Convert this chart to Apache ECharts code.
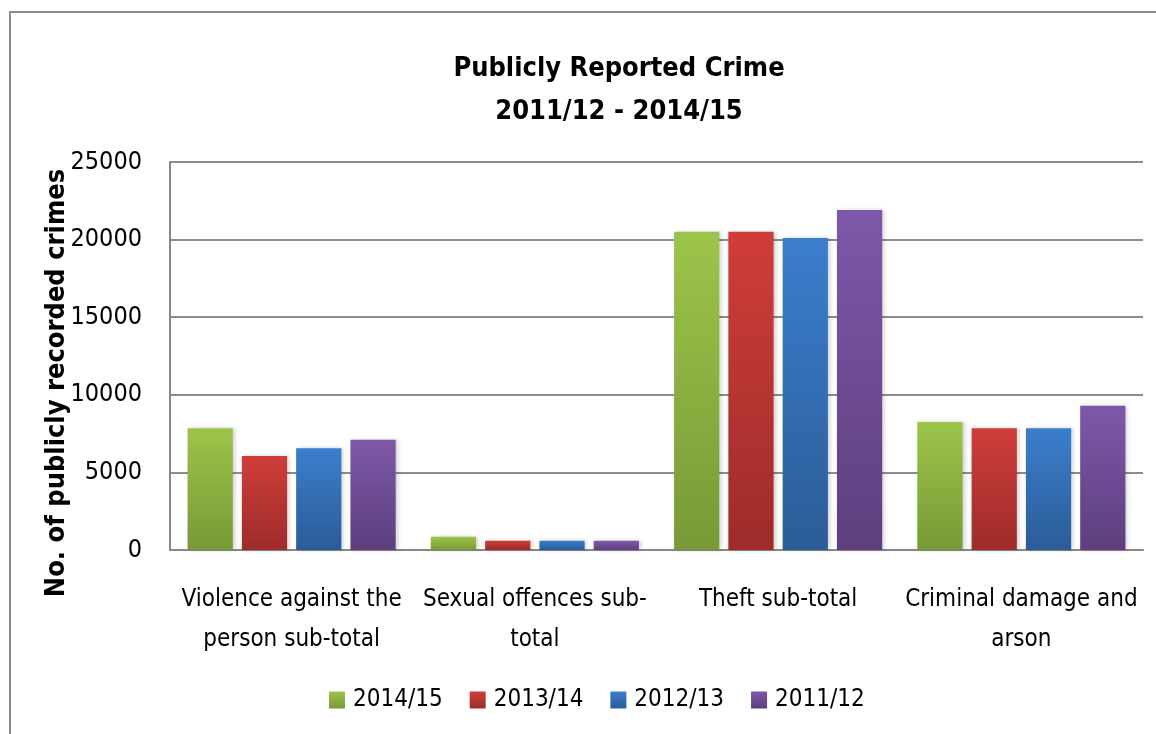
<!DOCTYPE html>
<html>
<head>
<meta charset="utf-8">
<script src="https://cdn.jsdelivr.net/npm/echarts@6/dist/echarts.min.js"></script>
<style>
    html, body { margin: 0; padding: 0; background: #fff; }
    #chart1 { width: 1156px; height: 734px; }
</style>
</head>
<body>
<div id="chart1"></div>
<script>
var categories = ['Violence against the\nperson sub-total', 'Sexual offences sub-\ntotal', 'Theft sub-total', 'Criminal damage and\narson'];
var seriesNames = ['2014/15', '2013/14', '2012/13', '2011/12'];
var data201415 = [7850, 850, 20500, 8250];
var data201314 = [6050, 600, 20500, 7850];
var data201213 = [6550, 600, 20100, 7850];
var data201112 = [7100, 600, 21900, 9300];
var yTicks = [0, 5000, 10000, 15000, 20000, 25000];

var fontName = "'DejaVu Sans Condensed', 'Liberation Sans Narrow', sans-serif";

// top / bottom colours of each gradient
var colours = [
    ['#9dc44a', '#779a36'],
    ['#cf3d3a', '#9d2c2a'],
    ['#3b7ecd', '#2b5c97'],
    ['#7d58a9', '#5d3f7e']
];

function grad(c) {
    return new echarts.graphic.LinearGradient(0, 0, 0, 1, [
        { offset: 0, color: c[0] },
        { offset: 1, color: c[1] }
    ]);
}

function makeSeries(name, values, c) {
    return {
        name: name,
        type: 'bar',
        barWidth: '18.6%',
        barGap: '20%',
        itemStyle: {
            color: grad(c),
            shadowColor: 'rgba(0,0,0,0.18)',
            shadowBlur: 4,
            shadowOffsetX: 2
        },
        data: values
    };
}

drawChart1();

function drawChart1() {
    var dom1 = document.getElementById('chart1');
    var myChart1 = echarts.init(dom1);
    var option = {
        animation: false,
        textStyle: { fontFamily: fontName },
        graphic: [{
            type: 'rect',
            shape: { x: 10, y: 12, width: 1200, height: 800 },
            style: { fill: 'none', stroke: '#8c8c8c', lineWidth: 2 }
        }, {
            type: 'text',
            x: 57,
            y: 383,
            rotation: Math.PI / 2,
            style: {
                text: 'No. of publicly recorded crimes',
                font: 'bold 27px ' + fontName,
                fill: '#000',
                align: 'center',
                verticalAlign: 'middle'
            }
        }],
        title: {
            text: 'Publicly Reported Crime\n2011/12 - 2014/15',
            left: 614,
            top: 42,
            textAlign: 'center',
            textStyle: {
                fontFamily: fontName,
                fontSize: 27,
                fontWeight: 'bold',
                color: '#000',
                lineHeight: 43
            }
        },
        legend: {
            data: seriesNames,
            left: 324,
            top: 683,
            icon: 'rect',
            itemWidth: 16,
            itemHeight: 17,
            itemGap: 27,
            textStyle: {
                fontFamily: fontName,
                fontSize: 24,
                color: '#000',
                padding: [0, 0, 0, 3]
            }
        },
        grid: {
            left: 170,
            right: 13,
            top: 162,
            bottom: 184
        },
        xAxis: {
            type: 'category',
            data: categories,
            axisTick: { show: false },
            axisLine: { lineStyle: { color: '#888', width: 2 } },
            axisLabel: {
                interval: 0,
                margin: 30,
                fontFamily: fontName,
                fontSize: 24,
                lineHeight: 40,
                color: '#000'
            }
        },
        yAxis: {
            type: 'value',
            min: yTicks[0],
            max: yTicks[yTicks.length - 1],
            interval: yTicks[1] - yTicks[0],
            axisLine: { show: true, lineStyle: { color: '#888', width: 2 } },
            axisTick: { show: false },
            axisLabel: {
                margin: 28,
                fontFamily: fontName,
                fontSize: 25,
                color: '#000',
                formatter: function (v) { return String(v); }
            },
            splitLine: { lineStyle: { color: '#8c8c8c', width: 2 } }
        },
        series: [
            makeSeries(seriesNames[0], data201415, colours[0]),
            makeSeries(seriesNames[1], data201314, colours[1]),
            makeSeries(seriesNames[2], data201213, colours[2]),
            makeSeries(seriesNames[3], data201112, colours[3])
        ]
    };
    myChart1.setOption(option, true);
    window.onresize = myChart1.resize;
}
</script>
</body>
</html>
